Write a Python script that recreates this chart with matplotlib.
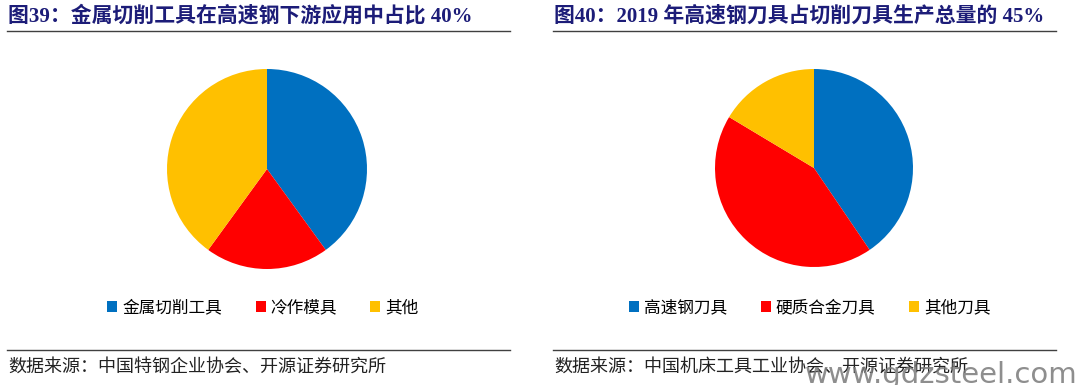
import matplotlib

matplotlib.use("Agg")
import matplotlib.pyplot as plt
from matplotlib.lines import Line2D

plt.rcParams["font.family"] = ["Noto Sans CJK SC", "DejaVu Sans"]

# ---------- data ----------
left_title = "图39：金属切削工具在高速钢下游应用中占比 40%"
left_labels = ["金属切削工具", "冷作模具", "其他"]
left_values = [40, 20, 40]
left_source = "数据来源：中国特钢企业协会、开源证券研究所"

right_title = "图40：2019 年高速钢刀具占切削刀具生产总量的 45%"
right_labels = ["高速钢刀具", "硬质合金刀具", "其他刀具"]
right_values = [40.5, 43.1, 16.4]
right_source = "数据来源：中国机床工具工业协会、开源证券研究所"

colors = ["#0070C0", "#FF0000", "#FFC000"]
TITLE_C = "#1c1c78"
LINE_C = "#404040"

W, H = 1080, 385
fig = plt.figure(figsize=(W / 100, H / 100), dpi=100)
fig.patch.set_facecolor("white")


def px(x, y):
    return x / W, 1 - y / H


def panel(x0, x1, cx, cy, r, title, labels, values, source, leg_cx):
    # title + rules
    fig.text(*px(x0 + 1, 16), title, fontsize=15, fontweight="bold", color=TITLE_C,
             family=["Liberation Serif", "Noto Sans CJK SC"], ha="left", va="center")
    for yy in (31, 350):
        fig.add_artist(Line2D([x0 / W, x1 / W], [1 - yy / H] * 2, color=LINE_C, lw=1.0))
    fig.text(*px(x0 + 1, 367), source, fontsize=13, color="#222222",
             ha="left", va="center")

    ax = fig.add_axes([(cx - r) / W, (H - cy - r) / H, 2 * r / W, 2 * r / H])
    wedges, _ = ax.pie(values, colors=colors, startangle=90, counterclock=False,
                       radius=1, wedgeprops={"linewidth": 0})
    ax.set_xlim(-1, 1)
    ax.set_ylim(-1, 1)
    ax.set_aspect("equal")
    ax.axis("off")

    fig.legend(wedges, labels, loc="center", bbox_to_anchor=px(leg_cx, 308),
               ncol=3, frameon=False, fontsize=12, handlelength=0.6,
               handleheight=0.6, handletextpad=0.3, columnspacing=2.0)
    return ax


panel(7, 510, 267, 169, 100, left_title, left_labels, left_values, left_source, 263)
panel(553, 1056, 814, 168, 99, right_title, right_labels, right_values, right_source, 810)

# watermark of the source image
fig.text(1078 / W, 1 - 375 / H, "www.gdzsteel.com", fontsize=21, color="#7a7a7a",
         alpha=0.85, family="DejaVu Sans", ha="right", va="center")

fig.savefig("out.png", dpi=100, facecolor="white")
